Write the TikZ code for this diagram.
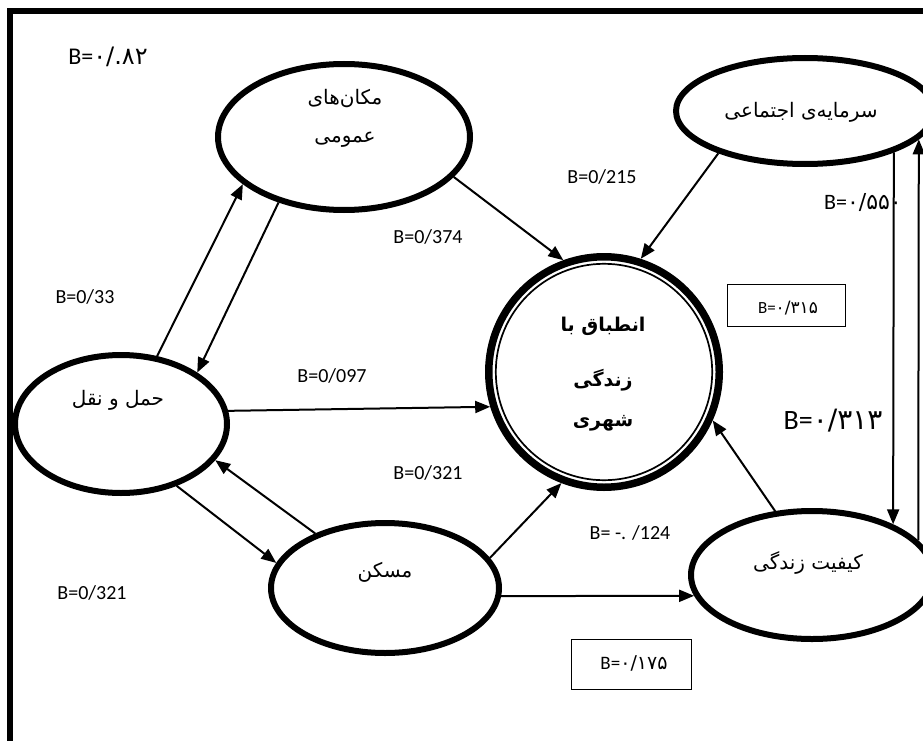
\documentclass[tikz,border=0pt]{standalone}
\usepackage{fontspec}
\setmainfont{Carlito}
\newfontfamily\fa[Script=Arabic]{DejaVu Sans}
\newfontfamily\dg{DejaVu Sans}
\TeXXeTstate=1
\usetikzlibrary{arrows.meta,shapes.geometric}
\tikzset{
  ell/.style={ellipse, draw, line width=6pt, inner sep=0pt},
  arr/.style={line width=2pt, -{Triangle[length=15pt,width=12pt]}},
  lbl/.style={font=\fontsize{20}{22}\selectfont, inner sep=0pt},
  fatxt/.style={font=\fa\fontsize{20}{23}\selectfont, inner sep=0pt},
  fabold/.style={font=\fa\bfseries\fontsize{19}{22}\selectfont, inner sep=0pt},
  valbox/.style={draw, line width=1pt, inner sep=0pt}
}
\begin{document}
\begin{tikzpicture}[x=1pt,y=-1pt]
\useasboundingbox (0,0) rectangle (923,741);
\fill[white] (0,0) rectangle (923,741);
% frame
\draw[line width=6pt] (9.5,760) -- (9.5,11) -- (940,11);

% nodes
\node[ell, minimum width=252pt, minimum height=146pt] (M) at (344,137) {};
\node[ell, minimum width=258pt, minimum height=106pt] (S) at (805,111) {};
\node[ell, minimum width=212pt, minimum height=138pt] (H) at (121,424) {};
\node[ell, minimum width=228pt, minimum height=130pt] (K) at (385,588) {};
\node[ell, minimum width=242pt, minimum height=128pt] (Q) at (812,575) {};
\node[circle, draw, line width=7.5pt, inner sep=0pt, minimum size=230.5pt] (C) at (604,372) {};
\node[circle, draw, line width=1.7pt, inner sep=0pt, minimum size=216.4pt] (Cin) at (604,372) {};

% texts
\node[fatxt] (mt1) at (345,99) {\beginR مکان‌های\endR};
\node[fatxt] (mt2) at (345,140) {\beginR عمومی\endR};
\node[fatxt] (st) at (801,112) {\beginR سرمایه‌ی اجتماعی\endR};
\node[fatxt] (ht) at (118,400) {\beginR حمل و نقل\endR};
\node[fatxt] (kt) at (385,572) {\beginR مسکن\endR};
\node[fatxt] (qt) at (808,563) {\beginR کیفیت زندگی\endR};
\node[fabold] (ct1) at (603,326) {\beginR انطباق با\endR};
\node[fabold] (ct2) at (603,380) {\beginR زندگی\endR};
\node[fabold] (ct3) at (603,423) {\beginR شهری\endR};

% connectors
\draw[arr] (H.62.8) -- (M.205.4);
\draw[arr] (M.225.9) -- (H.34.8);
\draw[arr] (M.-20.2) -- (C.110.9);
\draw[arr] (S.206.6) -- (C.72.6);
\draw[arr] (H.7.8) -- (C.197.2);
\draw[arr] (K.142.6) -- (H.-21.5);
\draw[arr] (H.-48.2) -- (K.167.3);
\draw[arr] (K.16.8) -- (C.249.5);
\draw[arr] (K.-4.4) -- (Q.190.7);
\draw[arr] (Q.120.8) -- (C.-24);
\draw[arr] (S.-25.4) -- (Q.32.2);
\draw[arr] (Q.18.9) -- (S.-14.8);

% labels
\node[lbl, font=\fontsize{24}{26}\selectfont] (b082) at (108,57) {B=\dg ۰/.۸۲};
\node[lbl] (b33) at (85,297) {B=0/33};
\node[lbl] (b374) at (428,237) {B=0/374};
\node[lbl] (b215) at (602,177) {B=0/215};
\node[lbl] (b097) at (332,376) {B=0/097};
\node[lbl] (b321a) at (428,473) {B=0/321};
\node[lbl] (b321b) at (92,593) {B=0/321};
\node[lbl] (b124) at (630,533) {B= -. /124};
\node[lbl, font=\fontsize{22}{24}\selectfont] (b550) at (863,203) {B=\dg ۰/۵۵۰};
\node[lbl, font=\fontsize{28}{30}\selectfont] (b313) at (833,421) {B=\dg ۰/۳۱۳};
\node[valbox, minimum width=118pt, minimum height=42pt] (bx315) at (786,305) {};
\node[lbl, font=\fontsize{17}{19}\selectfont] (b315) at (788,308) {B=\dg ۰/۳۱۵};
\node[valbox, minimum width=120pt, minimum height=50pt] (bx175) at (631,664) {};
\node[lbl, font=\fontsize{19}{21}\selectfont] (b175) at (634,663) {B=\dg ۰/۱۷۵};
\end{tikzpicture}
\end{document}
